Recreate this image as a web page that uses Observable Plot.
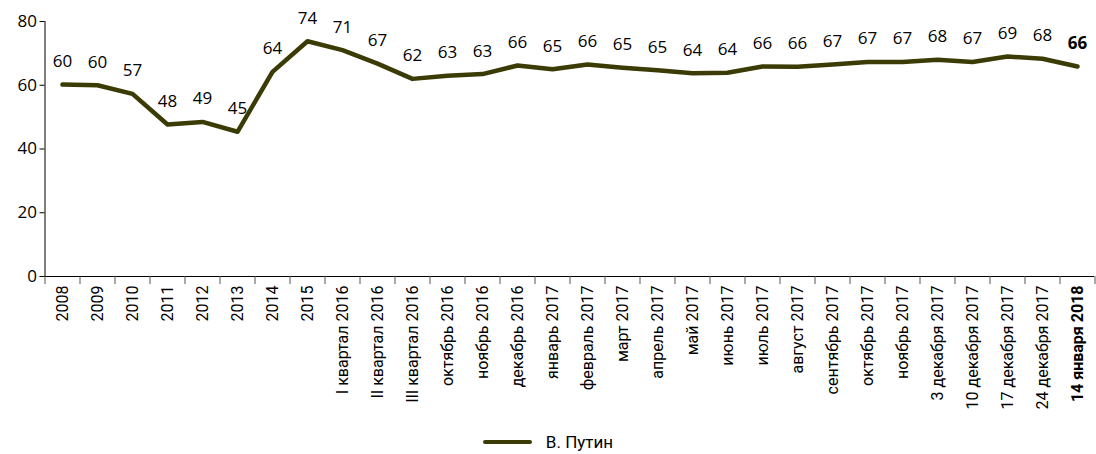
<!DOCTYPE html>
<html>
<head>
<meta charset="utf-8">
<script src="https://cdn.jsdelivr.net/npm/d3@7"></script>
<script src="https://cdn.jsdelivr.net/npm/@observablehq/plot@0.6"></script>
<style>
  html, body { margin: 0; padding: 0; background: #fff; }
  #chart { width: 1096px; }
  #legend { display: flex; justify-content: center; align-items: center; height: 36px; font-family: Roboto, "Noto Sans", sans-serif; font-size: 17px; color: #000; }
  #legend .sw { width: 49px; height: 4px; background: #3b3b06; border-radius: 2px; margin-right: 14px; }
</style>
</head>
<body>
<div id="chart"></div>
<div id="legend"><span class="sw"></span><span>В. Путин</span></div>
<script>
const categories = ["2008","2009","2010","2011","2012","2013","2014","2015",
  "I квартал 2016","II квартал 2016","III квартал 2016","октябрь 2016","ноябрь 2016","декабрь 2016",
  "январь 2017","февраль 2017","март 2017","апрель 2017","май 2017","июнь 2017","июль 2017",
  "август 2017","сентябрь 2017","октябрь 2017","ноябрь 2017","3 декабря 2017","10 декабря 2017",
  "17 декабря 2017","24 декабря 2017","14 января 2018"];
const values = [60.2,60.0,57.3,47.7,48.5,45.4,64.2,73.8,71.0,66.8,62.0,63.0,63.5,66.2,
  65.0,66.5,65.5,64.7,63.8,63.9,65.9,65.8,66.5,67.3,67.3,68.0,67.3,69.0,68.3,65.9];
const labels = [60,60,57,48,49,45,64,74,71,67,62,63,63,66,65,66,65,65,64,64,66,66,67,67,67,68,67,69,68,66];
const yTicks = [0,20,40,60,80];
const seriesName = "В. Путин";

const data = categories.map((c, i) => ({cat: c, value: values[i], label: labels[i], last: i === categories.length - 1}));

const W = 1096, ML = 44, MR = 2;
const step = (W - ML - MR) / categories.length;
const color = "#3b3b06";
const tickFont = "Roboto, 'Noto Sans', sans-serif";
const numFont = "'Open Sans', 'Noto Sans', sans-serif";
const first = categories[0];

const plot = Plot.plot({
  width: W,
  height: 424,
  marginLeft: ML,
  marginRight: MR,
  marginTop: 21,
  marginBottom: 148,
  x: {type: "point", domain: categories, padding: 0.5, align: 0.5, axis: null},
  y: {domain: [0, 80], axis: null},
  style: {background: "#fff"},
  marks: [
    // y axis line
    Plot.ruleX([first], {x: d => d, y1: 0, y2: 80, dx: -step / 2, stroke: "#000", strokeWidth: 1}),
    // y ticks
    Plot.ruleY(yTicks, {y: d => d, x1: () => first, x2: () => first, dx: -step / 2, insetLeft: -5, stroke: "#000", strokeWidth: 1}),
    Plot.text(yTicks, {y: d => d, x: () => first, dx: -step / 2 - 8, text: d => String(d), textAnchor: "end", fontSize: 17, fontFamily: numFont, fill: "#000"}),
    // x axis line
    Plot.ruleY([0], {stroke: "#000", strokeWidth: 1}),
    // x boundary ticks
    Plot.ruleX(categories, {x: d => d, y1: 0, y2: 0, insetBottom: -8, dx: -step / 2, stroke: "#555", strokeWidth: 1}),
    Plot.ruleX([categories[categories.length - 1]], {x: d => d, y1: 0, y2: 0, insetBottom: -8, dx: step / 2, stroke: "#555", strokeWidth: 1}),
    // x tick labels
    Plot.text(data, {filter: d => !d.last, x: "cat", y: () => 0, text: "cat", rotate: -90, textAnchor: "end", dy: 9, fontSize: 16, fontFamily: tickFont, fill: "#000"}),
    Plot.text(data, {filter: d => d.last, x: "cat", y: () => 0, text: "cat", rotate: -90, textAnchor: "end", dy: 9, fontSize: 16, fontWeight: "bold", fontFamily: tickFont, fill: "#000"}),
    // line
    Plot.line(data, {x: "cat", y: "value", stroke: color, strokeWidth: 4.5, strokeLinejoin: "round", strokeLinecap: "round"}),
    // data labels
    Plot.text(data, {filter: d => !d.last, x: "cat", y: "value", text: d => String(d.label), dy: -23, fontSize: 17, fontFamily: numFont, fill: "#000"}),
    Plot.text(data, {filter: d => d.last, x: "cat", y: "value", text: d => String(d.label), dy: -23, fontSize: 17, fontWeight: "bold", fontFamily: numFont, fill: "#000"})
  ]
});
document.getElementById("chart").appendChild(plot);
</script>
</body>
</html>
